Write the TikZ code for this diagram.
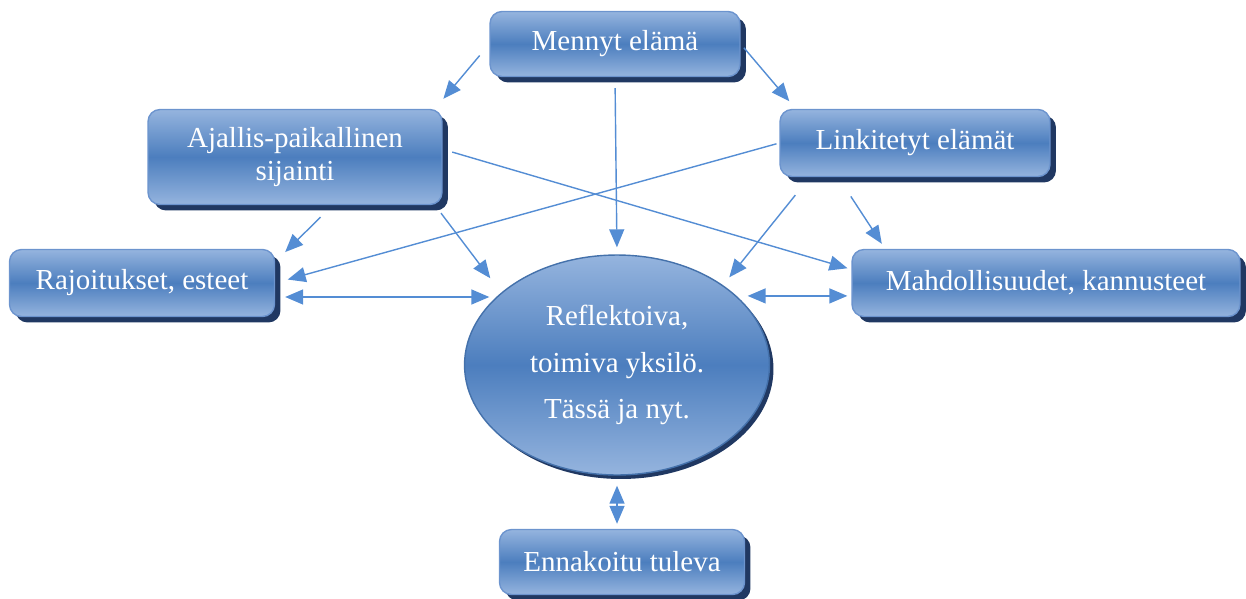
\documentclass[tikz,border=0pt]{standalone}
\usepackage{fontspec}
\setmainfont{Liberation Serif}
\usetikzlibrary{shapes.geometric, shadows, arrows.meta}
\definecolor{boxtop}{RGB}{149,180,222}
\definecolor{boxmid}{RGB}{76,126,190}
\definecolor{boxedge}{RGB}{108,148,206}
\definecolor{boxshadow}{RGB}{32,56,98}
\definecolor{arrowblue}{RGB}{84,141,212}
\tikzset{
  box/.style={rectangle, rounded corners=0.24cm, draw=boxedge, line width=0.8pt, inner sep=0pt,
    top color=boxtop, bottom color=boxtop, middle color=boxmid, text=white, align=center,
    font=\fontsize{16.5}{19}\selectfont,
    drop shadow={shadow xshift=0.12cm, shadow yshift=-0.12cm, fill=boxshadow, opacity=1}},
  self/.style={ellipse, draw=boxmid!90!black, line width=0.8pt, inner sep=0pt,
    top color=boxtop, bottom color=boxtop, middle color=boxmid, text=white, align=center,
    font=\fontsize{16.5}{26.7}\selectfont,
    drop shadow={shadow xshift=0.08cm, shadow yshift=-0.08cm, fill=boxshadow, opacity=1}},
  arr/.style={draw=arrowblue, line width=0.8pt, -{Triangle[length=0.36cm, width=0.3cm]}},
  arrboth/.style={arr, {Triangle[length=0.36cm, width=0.3cm]}-{Triangle[length=0.36cm, width=0.3cm]}}
}

\begin{document}
\begin{tikzpicture}[x=0.02cm, y=-0.02cm]
    \useasboundingbox (0,0) rectangle (1246,598);

    \node [box, minimum width=5cm, minimum height=1.3cm] (mennyt) at (615,44) {Mennyt elämä};
    \node [box, minimum width=5.88cm, minimum height=1.9cm] (ajallis) at (295,157) {Ajallis-paikallinen\\sijainti};
    \node [box, minimum width=5.4cm, minimum height=1.34cm] (linkit) at (915,143) {Linkitetyt elämät};
    \node [box, minimum width=5.3cm, minimum height=1.34cm] (rajoit) at (142,283) {Rajoitukset, esteet};
    \node [box, minimum width=7.76cm, minimum height=1.34cm] (mahdol) at (1046,283) {Mahdollisuudet, kannusteet};
    \node [self, minimum width=6.1cm, minimum height=4.4cm] (yksilo) at (617,365) {Reflektoiva,\\toimiva yksilö.\\Tässä ja nyt.};
    \node [box, minimum width=4.9cm, minimum height=1.3cm] (tuleva) at (622,562) {Ennakoitu tuleva};

    \draw [arr, shorten <=0.3cm, shorten >=0.26cm] (mennyt.west) -- (ajallis.19);
    \draw [arr, shorten <=0.1cm, shorten >=0.2cm] (mennyt.east) -- (linkit.164);
    \draw [arr, shorten <=0.22cm, shorten >=0.14cm] (mennyt.south) -- (yksilo.north);
    \draw [arr, shorten <=0.2cm, shorten >=0.08cm] (ajallis.3) -- (mahdol.176);
    \draw [arr, shorten <=0.06cm, shorten >=0.26cm] (linkit.west) -- (rajoit.east);
    \draw [arr, shorten <=0.34cm, shorten >=0.28cm] (ajallis.308) -- (rajoit.9);
    \draw [arr, shorten <=0.2cm, shorten >=0.36cm] (ajallis.341) -- (yksilo.148);
    \draw [arr, shorten <=0.46cm, shorten >=0.2cm] (linkit.198) -- (yksilo.37);
    \draw [arr, shorten <=0.46cm, shorten >=0.12cm] (linkit.204) -- (mahdol.168);

    \draw [arrboth, shorten <=0.2cm, shorten >=0.16cm] (rajoit.-6) -- (rajoit.-6 -| yksilo.150);
    \draw [arrboth, shorten <=0.22cm, shorten >=0.08cm] (yksilo.30) -- (yksilo.30 -| mahdol.west);
    \draw [arrboth, shorten <=0.2cm, shorten >=0.1cm] (yksilo.south) -- (yksilo.south |- tuleva.north);
\end{tikzpicture}
\end{document}
